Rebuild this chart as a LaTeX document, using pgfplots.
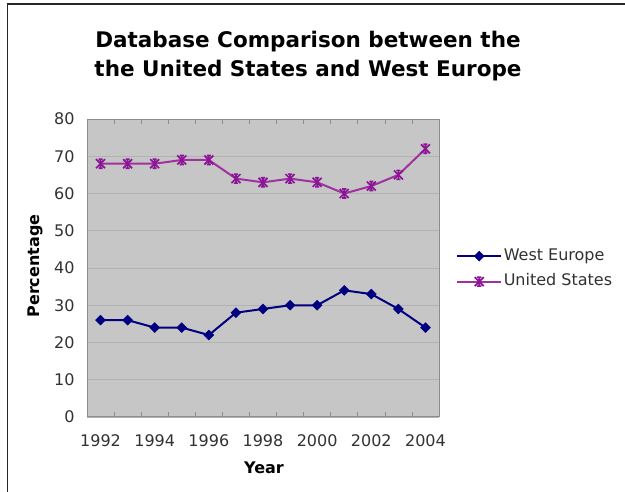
\documentclass[border=0pt]{standalone}
\usepackage{pgfplots}
\pgfplotsset{compat=1.18}
\usepackage{fontspec}
\setmainfont{DejaVu Sans}
\definecolor{bggray}{RGB}{198,198,198}
\definecolor{gridgray}{RGB}{178,178,178}
\definecolor{axgray}{RGB}{140,140,140}
\definecolor{weblue}{RGB}{0,0,128}
\definecolor{usline}{RGB}{160,50,160}
\definecolor{usmark}{RGB}{140,20,150}
\definecolor{txt}{RGB}{50,50,50}
\pgfdeclareplotmark{xlstar}{%
  \pgfpathmoveto{\pgfqpoint{-\pgfplotmarksize}{-\pgfplotmarksize}}%
  \pgfpathlineto{\pgfqpoint{\pgfplotmarksize}{\pgfplotmarksize}}%
  \pgfpathmoveto{\pgfqpoint{-\pgfplotmarksize}{\pgfplotmarksize}}%
  \pgfpathlineto{\pgfqpoint{\pgfplotmarksize}{-\pgfplotmarksize}}%
  \pgfpathmoveto{\pgfqpoint{0pt}{-\pgfplotmarksize}}%
  \pgfpathlineto{\pgfqpoint{0pt}{\pgfplotmarksize}}%
  \pgfpathmoveto{\pgfqpoint{-0.45\pgfplotmarksize}{\pgfplotmarksize}}%
  \pgfpathlineto{\pgfqpoint{0.45\pgfplotmarksize}{\pgfplotmarksize}}%
  \pgfpathmoveto{\pgfqpoint{-0.45\pgfplotmarksize}{-\pgfplotmarksize}}%
  \pgfpathlineto{\pgfqpoint{0.45\pgfplotmarksize}{-\pgfplotmarksize}}%
  \pgfusepathqstroke}
\pgfplotstableread{
year we us
1992 26 68
1993 26 68
1994 24 68
1995 24 69
1996 22 69
1997 28 64
1998 29 63
1999 30 64
2000 30 63
2001 34 60
2002 33 62
2003 29 65
2004 24 72
}\datatable
\begin{document}
\begin{tikzpicture}
\useasboundingbox (0bp,0bp) rectangle (625bp,492bp);
\fill[white] (0bp,0bp) rectangle (625bp,492bp);
\draw[line width=1.6bp, black!85] (7.5bp,0bp) -- (7.5bp,488bp) -- (625bp,488bp);
\node[align=center, font=\fontsize{21.5bp}{29bp}\selectfont\bfseries] at (308bp,436bp) {Database Comparison between the\\the United States and West Europe};
\node[rotate=90, font=\fontsize{16bp}{19bp}\selectfont\bfseries] at (35bp,226bp) {Percentage};
\node[font=\fontsize{16bp}{19bp}\selectfont\bfseries] at (264bp,24bp) {Year};
\begin{axis}[
  at={(87bp,75bp)}, anchor=south west,
  width=352bp, height=298bp, scale only axis,
  xmin=1991.5, xmax=2004.5, ymin=0, ymax=80,
  xtick={1992,1994,...,2004},
  minor xtick={1991.5,1992.5,...,2004.5},
  ytick={0,10,...,80},
  major tick length=0pt,
  minor tick length=5bp,
  tick align=inside,
  minor tick style={draw=axgray, line width=0.6bp},
  ymajorgrids,
  grid style={draw=gridgray, line width=0.8bp},
  axis background/.style={fill=bggray},
  axis line style={draw=axgray, line width=1bp},
  /pgf/number format/assume math mode=true,
  /pgf/number format/1000 sep={},
  tick label style={font=\fontsize{16bp}{19bp}\selectfont, text=txt},
  yticklabel style={xshift=-9bp},
  xticklabel style={yshift=-14bp},
  legend style={at={(1.04,0.497)}, anchor=west, draw=none, fill=none,
    font=\fontsize{16bp}{19bp}\selectfont, text=txt,
    nodes={inner sep=1.5bp, text height=12bp, text depth=3.5bp},
    row sep=7bp},
  legend cell align=left,
  legend image code/.code={%
    \draw[mark repeat=2,mark phase=2,#1] plot coordinates {(0bp,0bp) (22bp,0bp) (44bp,0bp)};},
]
\addplot[weblue, line width=2bp, mark=square*, mark size=3.5bp, mark options={rotate=45, fill=weblue, draw=weblue, line width=0.5bp}] table[x=year, y=we] {\datatable};
\addlegendentry{West Europe}
\addplot[usline, line width=2bp, mark=xlstar, mark size=4.5bp, mark options={draw=usmark, line width=1.7bp}] table[x=year, y=us] {\datatable};
\addlegendentry{United States}
\end{axis}
\end{tikzpicture}
\end{document}
